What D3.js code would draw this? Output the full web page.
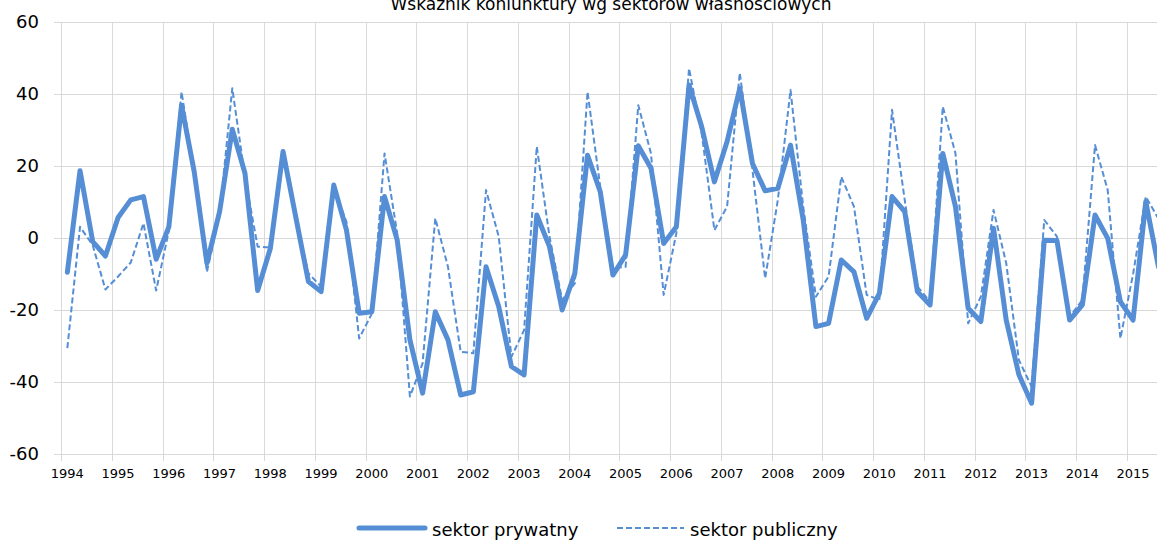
<!DOCTYPE html>
<html>
<head>
<meta charset="utf-8">
<script src="https://cdn.jsdelivr.net/npm/d3@7"></script>
<style>
  html, body { margin: 0; padding: 0; background: #fff; overflow: hidden; }
  svg { display: block; font-family: "DejaVu Sans", Verdana, sans-serif; }
</style>
</head>
<body>
<svg id="chart" width="1157" height="540"></svg>
<script>
const title = "Wskaźnik koniunktury wg sektorów własnościowych";
const years = ["1994","1995","1996","1997","1998","1999","2000","2001","2002","2003","2004",
               "2005","2006","2007","2008","2009","2010","2011","2012","2013","2014","2015"];
const quarterNames = ["Q1","Q2","Q3","Q4"];
const yTicks = [-60, -40, -20, 0, 20, 40, 60];
const seriesNames = ["sektor prywatny", "sektor publiczny"];

const sektorPrywatny = [
  -9.5, 18.7, -1, -5, 5.7, 10.6, 11.5, -5.9, 3.1, 36.9, 18.4, -7, 7.3, 30.2, 18, -14.6,
  -2.9, 24, 5.9, -12.1, -14.9, 14.7, 2.2, -20.9, -20.5, 11.5, -0.6, -28.3, -43.1, -20.5, -28.3, -43.6,
  -42.7, -8, -19, -35.7, -38, 6.4, -2.4, -20, -9.8, 23, 12.9, -10.3, -4.7, 25.6, 19.4, -1.5,
  3.1, 42.5, 30.9, 15.6, 26.8, 41.6, 20.7, 13.1, 13.8, 25.8, 5, -24.6, -23.7, -6.1, -9.4, -22.3,
  -15.4, 11.5, 7.3, -14.9, -18.6, 23.5, 8.7, -19.5, -23.2, 2.7, -22.8, -38, -45.9, -0.6, -0.7, -22.8,
  -18.6, 6.4, -0.1, -17.7, -22.8, 10.1, -8
];
const sektorPubliczny = [
  -30.6, 3.1, -2, -14.3, -10.7, -6.8, 4.1, -14.6, 2, 40.6, 18, -9.4, 6.4, 41.6, 17, -2.4,
  -2.7, 24, 5.9, -9.8, -13.5, 13.8, 4.5, -27.9, -21, 23.5, 1.3, -44, -34.8, 5.5, -8, -31.6,
  -32, 13.3, 0.4, -33, -25.6, 25.4, 0.4, -17.2, -12.6, 40.6, 14.3, -8.4, -8, 36.9, 23.5, -15.8,
  1.3, 47.1, 29, 2.2, 8.7, 45.9, 18.9, -11.2, 10.6, 41.1, 8.7, -16.3, -10.7, 17, 8.7, -15.8,
  -17.2, 35.6, 10.6, -13.5, -17.7, 36.5, 23.5, -23.7, -16.3, 7.8, -7, -33.9, -41.3, 5, 0.4, -21.9,
  -17.2, 25.8, 13.3, -27.9, -10, 11.5, 5.3
];

const quarters = years.flatMap(y => quarterNames.map(q => y + "-" + q));

const color = "#558ED5";
const gridColor = "#D9D9D9";

const svg = d3.select("#chart");
const plotLeft = 61, plotTop = 22, plotBottom = 454;
const catWidth = 12.6875;
const plotRight = plotLeft + catWidth * quarters.length;

const x = d3.scaleBand().domain(quarters).range([plotLeft, plotRight]).padding(0);
const y = d3.scaleLinear().domain([-60, 60]).range([plotBottom, plotTop]);
const cx = q => x(q) + x.bandwidth() / 2;

// horizontal gridlines (with outward ticks)
svg.append("g").selectAll("line").data(yTicks).join("line")
  .attr("x1", plotLeft - 7).attr("x2", plotRight)
  .attr("y1", d => Math.round(y(d)) + 0.5).attr("y2", d => Math.round(y(d)) + 0.5)
  .attr("stroke", gridColor).attr("stroke-width", 1);

// vertical gridlines at year boundaries (with outward ticks)
const yearStarts = quarters.filter(q => q.endsWith("Q1"));
svg.append("g").selectAll("line").data(yearStarts).join("line")
  .attr("x1", d => Math.round(x(d)) + 0.5).attr("x2", d => Math.round(x(d)) + 0.5)
  .attr("y1", plotTop).attr("y2", plotBottom + 7)
  .attr("stroke", gridColor).attr("stroke-width", 1);

// y axis labels (plain hyphen-minus as in the reference)
const yAxis = d3.axisLeft(y).tickValues(yTicks).tickSize(0).tickPadding(22).tickFormat(d => String(d));
const gy = svg.append("g").attr("transform", `translate(${plotLeft},0)`).call(yAxis);
gy.select(".domain").remove();
gy.selectAll("text").attr("font-size", 18).attr("fill", "#000")
  .attr("font-family", "DejaVu Sans, sans-serif");

// x axis labels
const xAxis = d3.axisBottom(x).tickValues(yearStarts).tickSize(0).tickPadding(15)
  .tickFormat(d => d.slice(0, 4));
const gx = svg.append("g").attr("transform", `translate(0,${plotBottom})`).call(xAxis);
gx.select(".domain").remove();
gx.selectAll("text").attr("font-size", 13).attr("fill", "#000")
  .attr("font-family", "DejaVu Sans, sans-serif");

// lines
const line = d3.line().x((d, i) => cx(quarters[i])).y(d => y(d));
svg.append("path").datum(sektorPrywatny)
  .attr("d", line).attr("fill", "none").attr("stroke", color)
  .attr("stroke-width", 5).attr("stroke-linejoin", "round").attr("stroke-linecap", "round");
svg.append("path").datum(sektorPubliczny)
  .attr("d", line).attr("fill", "none").attr("stroke", color)
  .attr("stroke-width", 2).attr("stroke-dasharray", "6,3").attr("stroke-linejoin", "round");

// title (partially cut at top, as in reference)
svg.append("text").attr("x", 611).attr("y", 10).attr("text-anchor", "middle")
  .attr("font-size", 17).attr("fill", "#000").text(title);

// legend
const lg = svg.append("g");
lg.append("line").attr("x1", 359).attr("x2", 425).attr("y1", 528).attr("y2", 528)
  .attr("stroke", color).attr("stroke-width", 5).attr("stroke-linecap", "round");
lg.append("text").attr("x", 432).attr("y", 536).attr("font-size", 18).attr("fill", "#000")
  .text(seriesNames[0]);
lg.append("line").attr("x1", 617).attr("x2", 684).attr("y1", 528).attr("y2", 528)
  .attr("stroke", color).attr("stroke-width", 2).attr("stroke-dasharray", "6,3");
lg.append("text").attr("x", 690).attr("y", 536).attr("font-size", 18).attr("fill", "#000")
  .text(seriesNames[1]);
</script>
</body>
</html>
